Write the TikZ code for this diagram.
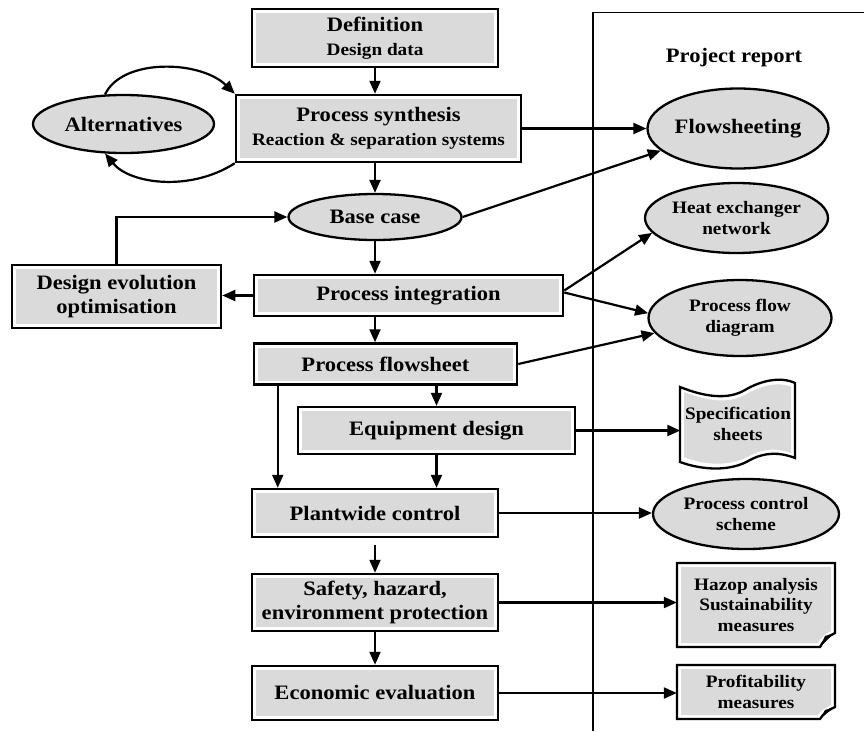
\documentclass[tikz,border=0pt]{standalone}
\usepackage{fontspec}
\setmainfont[FakeStretch=1.1]{Liberation Serif}
\usetikzlibrary{shapes.geometric,arrows.meta}
\newcommand\mainf{\fontsize{20.5}{23.5}\selectfont\bfseries}
\newcommand\subf{\fontsize{17.5}{20.5}\selectfont\bfseries}
\definecolor{boxgray}{RGB}{218,218,218}
\begin{document}
\begin{tikzpicture}[x=1pt,y=-1pt,
 box/.style={draw,line width=2.5pt,fill=white,align=center,font=\mainf,inner sep=0pt,
   path picture={\fill[boxgray] ([shift={(4pt,4pt)}]path picture bounding box.south west) rectangle ([shift={(-4pt,-4pt)}]path picture bounding box.north east);}},
 oval/.style={ellipse,draw,line width=2.3pt,fill=boxgray,align=center,font=\mainf,inner sep=0pt},
 doctext/.style={align=center,font=\subf,inner sep=0pt},
 arr/.style={line width=2.2pt,-{Triangle[length=13pt,width=11pt]}},
 docline/.style={draw,line width=2.3pt,fill=white},
]
\useasboundingbox (0,0) rectangle (864,731);

% left column
\node[box,minimum width=246pt,minimum height=58pt] (def) at (375,38) {Definition\\{\subf Design data}};
\node[box,minimum width=285pt,minimum height=67pt] (ps) at (378.5,128.5) {Process synthesis\\{\subf Reaction \& separation systems}};
\node[oval,minimum width=181pt,minimum height=58pt] (alt) at (123.5,124) {Alternatives};
\node[oval,minimum width=173pt,minimum height=46pt] (base) at (375,217) {Base case};
\node[box,minimum width=209pt,minimum height=63pt] (de) at (116.5,296.5) {Design evolution\\optimisation};
\node[box,minimum width=309pt,minimum height=41pt] (pi) at (408.5,295.5) {Process integration};
\node[box,minimum width=263pt,minimum height=41pt] (pf) at (385.5,364) {Process flowsheet};
\node[box,minimum width=277pt,minimum height=47pt] (ed) at (436.5,430.5) {Equipment design};
\node[box,minimum width=246pt,minimum height=48pt] (pw) at (375,513) {Plantwide control};
\node[box,minimum width=246pt,minimum height=57pt] (sf) at (375,602.5) {Safety, hazard,\\environment protection};
\node[box,minimum width=246pt,minimum height=54pt] (ee) at (375,693) {Economic evaluation};

% right panel
\draw[line width=1.8pt] (593,731) -- (593,12.5) -- (864,12.5);
\node[font=\mainf] (pr) at (734,58) {Project report};
\node[oval,minimum width=181pt,minimum height=80pt] (flow) at (738,128.5) {Flowsheeting};
\node[oval,font=\subf,minimum width=183pt,minimum height=70pt] (hen) at (736.5,218) {Heat exchanger\\network};
\node[oval,font=\subf,minimum width=183pt,minimum height=76pt] (pfd) at (740,318) {Process flow\\diagram};
\node[oval,font=\subf,minimum width=186pt,minimum height=70pt] (pcs) at (746,514) {Process control\\scheme};

% document shapes
\path[docline] (680,387) .. controls (705,397) and (728,400) .. (745,390)
  .. controls (760,381) and (780,376) .. (795,383) -- (795,458)
  .. controls (780,452) and (765,452) .. (750,460)
  .. controls (730,472) and (702,470) .. (680,462) -- cycle;
\fill[boxgray] (684,392) .. controls (707,401) and (728,404) .. (745,395)
  .. controls (760,386) and (778,381) .. (791,387) -- (791,453)
  .. controls (778,448) and (764,448) .. (749,456)
  .. controls (730,467) and (703,465) .. (684,457) -- cycle;
\node[doctext,minimum width=115pt,minimum height=70pt] (spec) at (738,424) {Specification\\sheets};

\path[docline] (677,563) -- (835,563) -- (835,633) .. controls (828,636) and (823,641) .. (820,647) -- (677,647) -- cycle;
\fill[boxgray] (681,567) -- (831,567) -- (831,631) .. controls (825,634) and (820,638) .. (818,643) -- (681,643) -- cycle;
\fill (835,633) -- (825,636) -- (820,647) .. controls (826,641) and (830,637) .. cycle;
\node[doctext,minimum width=158pt,minimum height=84pt] (hz) at (756,605) {Hazop analysis\\Sustainability\\measures};

\path[docline] (677,665) -- (835,665) -- (835,707) .. controls (828,710) and (823,714) .. (820,719) -- (677,719) -- cycle;
\fill[boxgray] (681,669) -- (831,669) -- (831,705) .. controls (825,708) and (820,711) .. (818,715) -- (681,715) -- cycle;
\fill (835,707) -- (825,710) -- (820,719) .. controls (826,714) and (830,710) .. cycle;
\node[doctext,minimum width=158pt,minimum height=54pt] (pm) at (756,692) {Profitability\\measures};

% main arrows
\coordinate (pfl) at ([xshift=25pt]pf.south west);
\draw[arr] (def.south) -- (def.south |- ps.north);
\draw[arr] (base.north |- ps.south) -- (base.north);
\draw[arr] (base.south) -- (base.south |- pi.north);
\draw[arr] (base.south |- pi.south) -- (base.south |- pf.north);
\draw[arr] (ed.north |- pf.south) -- (ed.north);
\draw[arr] (pfl) -- (pfl |- pw.north);
\draw[arr] (ed.south) -- (ed.south |- pw.north);
\draw[arr] ([yshift=-7pt]pw.south) -- (sf.north);
\draw[arr] (sf.south) -- (ee.north);
\draw[arr] (pi.west) -- (pi.west -| de.east);
\draw[arr] (de.north) |- (base.west);
\draw[arr] (alt.122) .. controls (122,58) and (200,60) .. (ps.north west);
\draw[arr] (ps.south west) .. controls (190,192) and (130,184) .. (alt.238);

% to report
\draw[arr] (ps.east) -- (flow.west);
\draw[arr] (base.east) -- (flow.196);
\draw[arr] ([yshift=5pt]pi.east) -- (hen.190);
\draw[arr] ([yshift=3pt]pi.east) -- (pfd.177);
\draw[arr] (pf.east) -- (pfd.190);
\draw[arr] (ed.east) -- (ed.east -| spec.west);
\draw[arr] (pw.east) -- (pw.east -| pcs.west);
\draw[arr] (sf.east) -- (sf.east -| hz.west);
\draw[arr] (ee.east) -- (ee.east -| pm.west);
\end{tikzpicture}
\end{document}
